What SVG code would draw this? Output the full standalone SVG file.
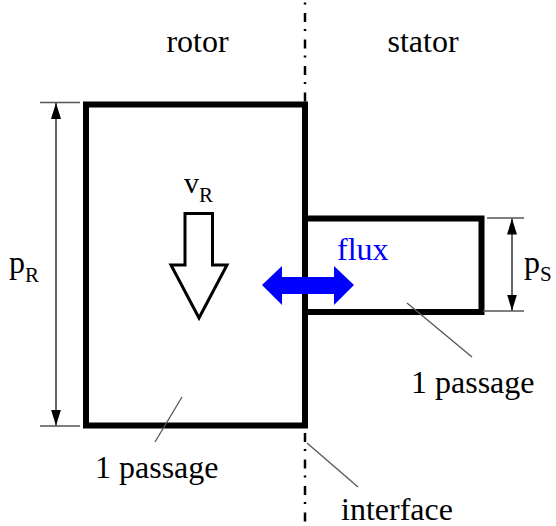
<svg xmlns="http://www.w3.org/2000/svg" width="556" height="526" viewBox="0 0 556 526">
<style>
.t{font-family:"Liberation Serif","Times New Roman",serif;fill:#000}
.lbl{font-size:32px}
.sub{font-size:21px}
.box{fill:none;stroke:#000;stroke-width:6}
.dim{stroke:#333;stroke-width:1.5;fill:none}
.ext{stroke:#555;stroke-width:1.5}
.lead{stroke:#555;stroke-width:1.3}
.axis{stroke:#000;stroke-width:2.5;stroke-dasharray:9 7 2 8.5}
</style>
<defs>
<marker id="ah" viewBox="0 0 16 10" refX="16" refY="5" markerWidth="16" markerHeight="10" markerUnits="userSpaceOnUse" orient="auto-start-reverse">
<path d="M0,0 L16,5 L0,10 Z" fill="#000"/>
</marker>
</defs>
<rect width="556" height="526" fill="#fff"/>
<g id="axis">
<line class="axis" x1="305" y1="0" x2="305" y2="104" stroke-dashoffset="13.5"/>
<line class="axis" x1="305" y1="428" x2="305" y2="526" stroke-dashoffset="21.5"/>
</g>
<g id="rotor">
<rect class="box" x="86" y="104.5" width="219" height="321"/>
<text class="t lbl" x="197.5" y="52" text-anchor="middle">rotor</text>
</g>
<g id="stator">
<rect class="box" x="305" y="218.5" width="176.5" height="93.5"/>
<text class="t lbl" x="423" y="52" text-anchor="middle">stator</text>
</g>
<g id="velocity">
<polygon points="185,213.5 212.5,213.5 212.5,265 227,265 199,318 171,265 185,265" fill="#fff" stroke="#000" stroke-width="3" stroke-linejoin="miter"/>
<text class="t" x="184" y="193" font-size="30">v<tspan class="sub" dy="9">R</tspan></text>
</g>
<g id="flux">
<polygon points="262,285 282,266 282,277 334,277 334,266 354,285 334,305 334,294 282,294 282,305" fill="#0000ff"/>
<text class="t lbl" x="337" y="260" style="fill:#0000ff">flux</text>
</g>
<g id="connectors">
<line class="ext" x1="40" y1="102.5" x2="80" y2="102.5"/>
<line class="ext" x1="40" y1="426" x2="80" y2="426"/>
<line class="dim" x1="56" y1="103" x2="56" y2="425.5" marker-start="url(#ah)" marker-end="url(#ah)"/>
<line class="ext" x1="487" y1="218" x2="524" y2="218"/>
<line class="ext" x1="483" y1="311" x2="524" y2="311"/>
<line class="dim" x1="512" y1="218.5" x2="512" y2="310.5" marker-start="url(#ah)" marker-end="url(#ah)"/>
<line class="lead" x1="407" y1="303" x2="472" y2="357"/>
<line class="lead" x1="182" y1="397" x2="155" y2="442"/>
<line class="lead" x1="307" y1="443" x2="358" y2="487"/>
</g>
<g id="labels">
<text class="t" x="9" y="273" font-size="32">p<tspan class="sub" dy="9">R</tspan></text>
<text class="t" x="524" y="273" font-size="32">p<tspan class="sub" dy="8">S</tspan></text>
<text class="t lbl" x="95" y="478">1 passage</text>
<text class="t lbl" x="411" y="393">1 passage</text>
<text class="t lbl" x="341" y="520">interface</text>
</g>
</svg>
